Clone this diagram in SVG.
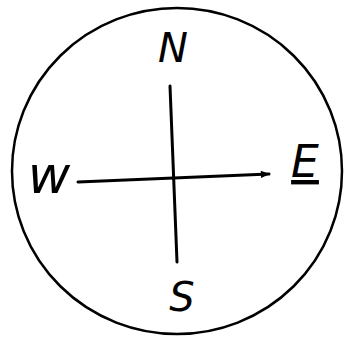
<svg xmlns="http://www.w3.org/2000/svg" width="357" height="343" viewBox="0 0 357 343">
<defs>
<style>
.lbl{font-family:"DejaVu Sans","Liberation Sans",sans-serif;font-size:40px;fill:#000;text-anchor:middle;font-weight:normal;font-style:italic}
.ln{stroke:#000;stroke-width:3;fill:none;stroke-linecap:round}
</style>
<marker id="ah" viewBox="0 0 10 10" refX="9" refY="5" markerWidth="4" markerHeight="3" orient="auto" markerUnits="strokeWidth">
<path d="M0,1 L10,5 L0,9 z" fill="#000"/>
</marker>
</defs>
<rect width="357" height="343" fill="#fff"/>
<g id="compass">
<ellipse cx="177" cy="171" rx="165" ry="163" fill="none" stroke="#000" stroke-width="2.5"/>
</g>
<g id="connectors">
<line class="ln" x1="170" y1="86" x2="177" y2="262"/>
<line class="ln" x1="78" y1="182" x2="269" y2="174" marker-end="url(#ah)"/>
</g>
<g id="N"><text class="lbl" x="173" y="62">N</text></g>
<g id="W"><text class="lbl" x="49" y="193" style="font-size:52px">w</text></g>
<g id="E"><text class="lbl" x="305" y="177" style="font-size:44px" text-decoration="underline">E</text></g>
<g id="S"><text class="lbl" x="182" y="311">S</text></g>
</svg>
